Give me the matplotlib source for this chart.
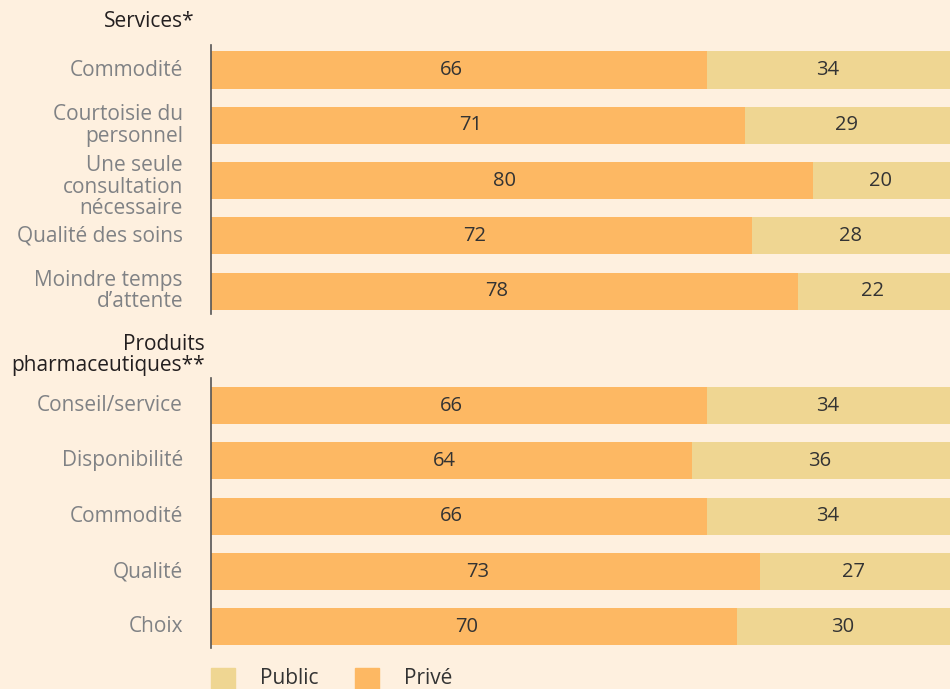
import matplotlib.pyplot as plt
from matplotlib.patches import Rectangle

plt.rcParams['font.family'] = ['Open Sans', 'DejaVu Sans']

services = ['Commodité', 'Courtoisie du\npersonnel', 'Une seule\nconsultation\nnécessaire',
            'Qualité des soins', 'Moindre temps\nd\u2019attente']
services_prive = [66, 71, 80, 72, 78]
produits = ['Conseil/service', 'Disponibilité', 'Commodité', 'Qualité', 'Choix']
produits_prive = [66, 64, 66, 73, 70]

c_prive = '#FDB863'
c_public = '#EFD692'
bg = '#FEF0DF'

fig = plt.figure(figsize=(9.5, 6.89), dpi=100, facecolor=bg)
ax = fig.add_axes([211 / 950, 0, 1 - 211 / 950, 1])
ax.set_facecolor(bg)

pos_s = [0, 1, 2, 3, 4]
pos_p = [6.07 + i for i in range(5)]
labels = services + produits
prive = services_prive + produits_prive
public = [100 - v for v in prive]
pos = pos_s + pos_p

h = 0.67
ax.barh(pos, prive, height=h, color=c_prive)
ax.barh(pos, public, left=prive, height=h, color=c_public)

for y, a, b in zip(pos, prive, public):
    ax.text(a / 2 - 1, y, str(a), ha='center', va='center', fontsize=14.5, color='#333333')
    ax.text(a + b / 2 - 1, y, str(b), ha='center', va='center', fontsize=14.5, color='#333333')

ax.set_xlim(0, 739 / 7.52)
ax.set_ylim((689 - 70) / 55.3, -70 / 55.3)
ax.axis('off')

# axis lines per group
ax.plot([0, 0], [-0.45, 4.41], color='#555555', lw=1.2, clip_on=False)
ax.plot([0, 0], [5.57, 10.45], color='#555555', lw=1.2, clip_on=False)

for y, lab in zip(pos, labels):
    dy = 0.12 if lab.count('\n') == 2 else 0
    ax.text(-28 / 7.52, y + dy, lab, ha='right', va='center', fontsize=15, color='#808285',
            linespacing=1.03)

ax.text(-16 / 7.52, -0.87, 'Services*', ha='right', va='center', fontsize=15, color='#231f20')
ax.text(-6 / 7.52, 5.15, 'Produits\npharmaceutiques**', ha='right', va='center', fontsize=15,
        color='#231f20', linespacing=1.03)

# legend
for x0, col, lab in [(211, c_public, 'Public'), (355, c_prive, 'Privé')]:
    fig.patches.append(Rectangle((x0 / 950, 0), 24 / 950, 21 / 689, transform=fig.transFigure,
                                 color=col))
    fig.text((x0 + 49) / 950, 11 / 689, lab, ha='left', va='center', fontsize=15, color='#333333')

fig.savefig('out.png', dpi=100, facecolor=bg)
